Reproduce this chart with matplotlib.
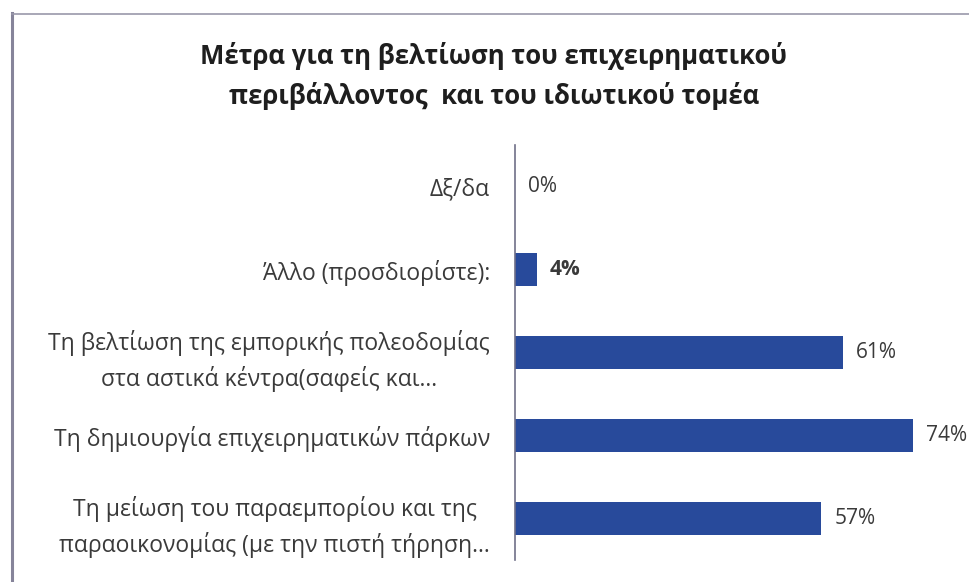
import matplotlib.pyplot as plt
from matplotlib.lines import Line2D

categories = ['Δξ/δα',
              'Άλλο (προσδιορίστε):',
              'Τη βελτίωση της εμπορικής πολεοδομίας\nστα αστικά κέντρα(σαφείς και...',
              'Τη δημιουργία επιχειρηματικών πάρκων',
              'Τη μείωση του παραεμπορίου και της\nπαραοικονομίας (με την πιστή τήρηση...']
values = [0, 4, 61, 74, 57]
value_labels = ['0%', '4%', '61%', '74%', '57%']

bar_color = '#284a9b'
text_color = '#3a3a3a'
plt.rcParams['font.family'] = ['Open Sans', 'DejaVu Sans']

fig = plt.figure(figsize=(9.69, 5.82), dpi=100)
fig.patch.set_facecolor('white')
ax = fig.add_axes([515/969, 1 - 560/582, 430/969, 415/582])

ypos = list(range(len(categories)))
ax.barh(ypos, values, height=0.4, color=bar_color)
ax.set_ylim(len(categories) - 0.5, -0.5)
ax.set_xlim(0, 80)

for y, v, lab in zip(ypos, values, value_labels):
    ax.text(v + 2.4, y, lab, va='center', ha='left', fontsize=15, color=text_color,
            fontweight='bold' if lab == '4%' else 'normal')

ax.set_yticks(ypos)
ax.set_yticklabels(categories, fontsize=16.5, color=text_color,
                   multialignment='center', linespacing=1.5)
ax.tick_params(axis='y', length=0, pad=18)
ax.set_xticks([])
for s in ['top', 'right', 'bottom']:
    ax.spines[s].set_visible(False)
ax.spines['left'].set_color('#707088')
ax.spines['left'].set_linewidth(1.2)

fig.text(494/969, 1 - 76/582,
         'Μέτρα για τη βελτίωση του επιχειρηματικού\nπεριβάλλοντος  και του ιδιωτικού τομέα',
         ha='center', va='center', fontsize=18.5, fontweight='bold', color='#1e1e1e',
         linespacing=1.55)

# frame lines
fig.add_artist(Line2D([12/969, 12/969], [0, 1 - 13/582], color='#86849a', lw=2.2))
fig.add_artist(Line2D([12/969, 1], [1 - 14/582, 1 - 14/582], color='#9a98aa', lw=1.2))

fig.savefig('out.png', dpi=100)
